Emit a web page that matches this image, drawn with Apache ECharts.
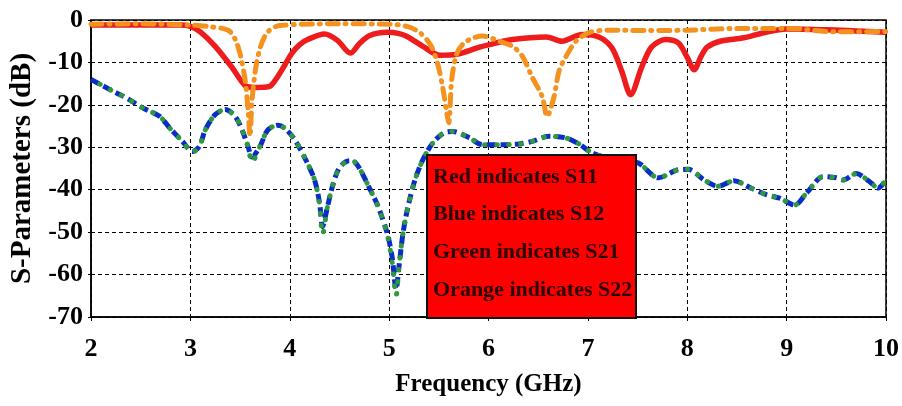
<!DOCTYPE html>
<html lang="en">
<head>
    <meta charset="UTF-8">
    <title>S-Parameters</title>
    <script src="https://cdn.jsdelivr.net/npm/echarts@6/dist/echarts.min.js"></script>
    <style type="text/css">
        html, body { margin: 0; padding: 0; background: #fff; }
        #box { width: 902px; height: 406px; }
    </style>
</head>
<body>
    <div id="box"></div>
<script>
    // S11 (red)
    var s11Freq = [2.0, 2.5, 2.9, 3.0, 3.1, 3.25, 3.42, 3.55, 3.65, 3.79, 3.86, 3.92, 4.02, 4.1, 4.18, 4.35, 4.48, 4.61, 4.7, 4.8, 4.98, 5.1, 5.18, 5.34, 5.51, 5.68, 5.91, 6.01, 6.24, 6.58, 6.74, 6.94, 7.11, 7.24, 7.34, 7.43, 7.54, 7.64, 7.78, 7.91, 8.0, 8.07, 8.14, 8.2, 8.33, 8.57, 8.77, 9.0, 9.4, 9.7, 10.0];
    var s11Db = [-1.2, -1.2, -1.2, -1.5, -2.8, -6.2, -11.2, -15.4, -15.9, -15.7, -14.0, -11.8, -7.9, -5.8, -4.6, -3.3, -4.8, -7.8, -5.6, -3.7, -2.9, -3.2, -3.9, -6.2, -8.3, -8.1, -6.4, -5.8, -4.6, -4.0, -5.0, -3.4, -4.0, -6.5, -12.0, -17.6, -11.2, -6.4, -4.6, -5.4, -8.8, -11.7, -8.5, -6.4, -5.0, -4.2, -3.0, -2.1, -2.3, -2.6, -2.9];

    // S22 (orange)
    var s22Freq = [2.0, 2.5, 3.0, 3.2, 3.38, 3.45, 3.5, 3.55, 3.58, 3.6, 3.62, 3.66, 3.71, 3.78, 3.9, 4.5, 5.0, 5.18, 5.31, 5.42, 5.49, 5.54, 5.58, 5.6, 5.63, 5.68, 5.75, 5.85, 5.94, 6.11, 6.24, 6.34, 6.44, 6.54, 6.59, 6.66, 6.71, 6.78, 6.88, 7.01, 7.2, 7.6, 8.0, 8.5, 9.0, 9.5, 10.0];
    var s22Db = [-1.0, -0.9, -1.2, -1.6, -2.4, -4.5, -8.0, -14.0, -21.0, -27.4, -19.0, -11.0, -6.0, -2.8, -1.3, -0.9, -1.0, -1.5, -3.0, -6.0, -10.5, -16.0, -21.9, -24.2, -14.0, -8.0, -5.5, -4.2, -3.8, -5.0, -6.2, -8.5, -13.5, -18.0, -22.7, -18.0, -12.0, -8.6, -5.0, -3.0, -2.4, -2.5, -2.4, -2.0, -2.0, -2.8, -2.7];

    // S12 (blue) and S21 (green)
    var s12Freq = [2.0, 2.19, 2.35, 2.52, 2.69, 2.79, 2.92, 3.02, 3.09, 3.15, 3.25, 3.35, 3.45, 3.52, 3.58, 3.62, 3.7, 3.78, 3.88, 3.95, 4.05, 4.16, 4.25, 4.3, 4.33, 4.38, 4.43, 4.5, 4.6, 4.65, 4.71, 4.81, 4.89, 4.98, 5.03, 5.07, 5.1, 5.14, 5.19, 5.26, 5.34, 5.44, 5.56, 5.64, 5.81, 5.94, 6.11, 6.31, 6.44, 6.61, 6.78, 6.91, 7.04, 7.2, 7.35, 7.51, 7.71, 7.91, 8.01, 8.17, 8.31, 8.47, 8.64, 8.8, 8.93, 9.08, 9.2, 9.37, 9.5, 9.57, 9.7, 9.83, 9.92, 10.0];
    var s12Db = [-14.0, -16.4, -18.3, -20.7, -22.7, -25.4, -28.6, -31.0, -29.8, -25.9, -22.3, -21.1, -22.7, -25.9, -29.8, -32.3, -29.8, -25.9, -24.8, -25.5, -28.2, -32.9, -37.7, -43.1, -48.7, -44.0, -39.2, -34.8, -33.2, -33.4, -35.3, -40.0, -44.0, -50.2, -55.8, -63.5, -58.0, -50.2, -44.0, -37.7, -32.9, -29.0, -26.5, -26.3, -27.8, -29.4, -29.4, -29.2, -28.6, -27.4, -27.8, -29.2, -31.3, -32.5, -33.0, -33.7, -37.2, -35.3, -35.2, -37.7, -39.2, -37.9, -39.6, -41.2, -42.0, -43.6, -40.8, -36.9, -37.2, -37.7, -36.2, -38.0, -39.6, -37.7];
    var s21Db = [-14.0, -16.4, -18.3, -20.7, -22.7, -25.4, -28.6, -31.2, -29.8, -25.9, -22.3, -21.1, -22.7, -25.9, -29.8, -33.5, -29.8, -25.9, -24.8, -25.5, -28.2, -32.9, -37.7, -43.5, -50.5, -44.0, -39.2, -34.8, -33.2, -33.4, -35.3, -40.0, -44.0, -50.5, -57.0, -65.0, -58.0, -50.2, -44.0, -37.7, -32.9, -29.0, -26.5, -26.3, -27.8, -29.4, -29.4, -29.2, -28.6, -27.4, -27.8, -29.2, -31.3, -32.5, -33.0, -33.7, -37.2, -35.3, -35.2, -37.7, -39.2, -37.9, -39.6, -41.2, -42.0, -43.6, -40.8, -36.9, -37.2, -37.7, -36.2, -38.0, -39.6, -37.7];

    var legendLines = ["Red indicates S11", "Blue indicates S12", "Green indicates S21", "Orange indicates S22"];

    function pairs(xs, ys) {
        var out = [];
        for (let i = 0; i < xs.length; i++) {
            out.push([xs[i], ys[i]]);
        }
        return out;
    }

    var font = "'Liberation Serif', 'Times New Roman', serif";
    var mychart = echarts.init(document.getElementById("box"));

    // legend box (red rectangle with text), drawn above the curves
    var boxChildren = [{
        type: "rect",
        z: 100,
        shape: { x: 0, y: 0, width: 209, height: 163 },
        style: { fill: "#ff0000", stroke: "#111", lineWidth: 2 }
    }];
    for (let i = 0; i < legendLines.length; i++) {
        boxChildren.push({
            type: "text",
            z: 101,
            x: 6,
            y: 22 + i * 37.7,
            style: {
                text: legendLines[i],
                fill: "#2a0000",
                font: "bold 22px " + font,
                verticalAlign: "middle"
            }
        });
    }

    mychart.setOption({
        animation: false,
        grid: {
            left: 88, right: 12, top: 20, bottom: 89,
            show: true, borderColor: "#000", borderWidth: 1.5
        },
        xAxis: {
            type: "value",
            min: 2, max: 10, interval: 1,
            name: "Frequency (GHz)",
            nameLocation: "middle",
            nameGap: 55,
            nameTextStyle: { fontFamily: font, fontWeight: "bold", fontSize: 25, color: "#000" },
            axisLine: { onZero: false, lineStyle: { color: "#000", width: 1.5 } },
            axisTick: { show: true, length: 4, lineStyle: { color: "#000" } },
            axisLabel: { fontFamily: font, fontWeight: "bold", fontSize: 26, color: "#000", margin: 19 },
            splitLine: { show: true, lineStyle: { color: "#000", type: [4, 3], width: 1 } }
        },
        yAxis: {
            type: "value",
            min: -70, max: 0, interval: 10,
            name: "S-Parameters (dB)",
            nameLocation: "middle",
            nameGap: 54,
            nameTextStyle: { fontFamily: font, fontWeight: "bold", fontSize: 29, color: "#000" },
            axisLine: { show: true, lineStyle: { color: "#000", width: 1.5 } },
            axisTick: { show: true, length: 3, lineStyle: { color: "#000" } },
            axisLabel: { fontFamily: font, fontWeight: "bold", fontSize: 26, color: "#000", margin: 8 },
            splitLine: { show: true, lineStyle: { color: "#000", type: [4, 3], width: 1 } }
        },
        series: [
            {
                name: "S11", type: "line", showSymbol: false, smooth: 0.3,
                data: pairs(s11Freq, s11Db),
                lineStyle: { color: "#ee1c1c", width: 5.5 }
            },
            {
                name: "S22", type: "line", showSymbol: false, smooth: 0.3,
                data: pairs(s22Freq, s22Db),
                lineStyle: { color: "#f5921e", width: 5, type: [11, 7, 1, 7], cap: "round" }
            },
            {
                name: "S12", type: "line", showSymbol: false, smooth: 0.3,
                data: pairs(s12Freq, s12Db),
                lineStyle: { color: "#0a2cc8", width: 5, type: [9, 5] }
            },
            {
                name: "S21", type: "line", showSymbol: false, smooth: 0.3,
                data: pairs(s12Freq, s21Db),
                lineStyle: { color: "#2f9a3c", width: 5, type: [0.5, 11.5], dashOffset: 2, cap: "round" }
            }
        ],
        graphic: [{
            type: "group",
            x: 427, y: 155,
            z: 100,
            children: boxChildren
        }]
    });
</script>
</body>
</html>
